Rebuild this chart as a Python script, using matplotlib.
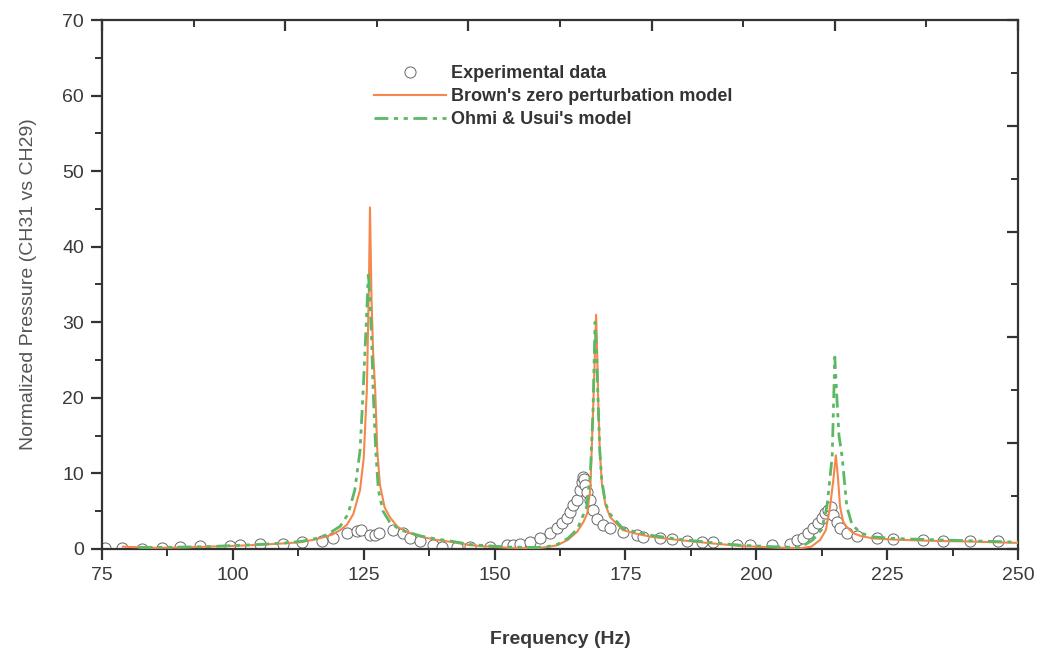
import numpy as np
import matplotlib.pyplot as plt
from matplotlib.ticker import MultipleLocator

plt.rcParams['font.family'] = ['Liberation Sans', 'DejaVu Sans']

exp_f = [75.6, 78.8, 82.6, 86.5, 89.9, 93.7, 99.5, 101.4, 105.2, 109.6, 113.2, 117.0,
         119.1, 121.8, 123.7, 124.5, 126.2, 127.2, 128.0, 130.6, 132.5, 133.8, 135.8,
         138.2, 140.0, 142.8, 145.3, 149.1, 152.4, 153.5, 154.9, 156.8, 158.7, 160.6,
         161.9, 162.9, 163.8, 164.4, 165.0, 165.8, 166.3, 166.7, 166.9, 167.1, 167.3,
         167.6, 168.2, 168.8, 169.6, 170.7, 172.1, 174.5, 177.2, 178.4, 181.6, 183.9,
         186.8, 189.6, 191.7, 196.3, 198.8, 203.0, 206.4, 207.8, 208.9, 209.9, 210.8,
         211.8, 212.6, 213.1, 213.7, 214.2, 214.7, 215.4, 216.0, 217.3, 219.3, 223.1,
         226.2, 231.9, 235.7, 240.8, 246.2]
exp_p = [0.1, 0.1, 0.0, 0.1, 0.2, 0.35, 0.45, 0.5, 0.6, 0.7, 0.9, 1.1,
         1.4, 2.1, 2.4, 2.5, 1.9, 1.9, 2.1, 2.5, 2.1, 1.5, 1.1,
         0.5, 0.3, 0.2, 0.2, 0.3, 0.5, 0.5, 0.7, 0.9, 1.4, 2.1,
         2.8, 3.4, 4.1, 4.9, 5.8, 6.5, 7.8, 8.9, 9.5, 9.3, 8.5,
         7.5, 6.5, 5.2, 4.0, 3.2, 2.8, 2.3, 1.9, 1.6, 1.4, 1.3,
         1.0, 0.9, 0.9, 0.5, 0.5, 0.5, 0.6, 1.2, 1.4, 2.1, 2.8,
         3.4, 4.1, 4.7, 5.2, 5.5, 4.5, 3.6, 2.8, 2.1, 1.7, 1.4,
         1.3, 1.2, 1.1, 1.1, 1.0]

# Brown's zero perturbation model
brown_f = [79.0, 85.0, 90.0, 95.0, 100.0, 105.0, 110.0, 113.0, 116.0, 119.0, 120.5,
           121.8, 123.0, 124.3, 125.0, 125.6, 126.0, 126.2, 126.5, 126.8, 127.2, 127.6,
           128.1, 129.0, 130.0, 131.5, 133.8, 136.0, 139.0, 142.0, 145.3, 149.0, 153.0,
           158.0, 160.0, 162.0, 164.0, 165.8, 167.0, 167.7, 168.3, 168.6, 169.0, 169.4,
           169.6, 169.8, 170.1, 170.5, 171.2, 172.1, 174.5, 177.2, 180.0, 185.0, 190.6,
           196.9, 203.2, 208.4, 210.5, 212.2, 213.3, 214.1, 214.7, 215.2, 215.6, 216.0,
           216.6, 217.3, 218.5, 220.0, 222.3, 226.0, 230.0, 235.0, 240.0, 245.0, 250.0]
brown_p = [0.3, 0.15, 0.2, 0.3, 0.4, 0.55, 0.75, 0.9, 1.3, 1.9, 2.5,
           3.2, 4.6, 7.8, 12.0, 21.0, 35.0, 45.2, 33.0, 26.0, 21.0, 13.0,
           8.5, 5.5, 4.2, 2.9, 2.1, 1.6, 1.2, 0.9, 0.5, 0.3, 0.15,
           0.1, 0.25, 0.5, 1.2, 2.3, 3.6, 4.7, 8.0, 14.0, 22.0, 31.0,
           26.0, 19.7, 13.0, 8.7, 5.8, 4.2, 2.5, 2.0, 1.6, 1.2, 0.8,
           0.4, 0.2, 0.1, 0.3, 1.2, 2.5, 5.6, 9.0, 12.4, 9.5, 5.6,
           3.6, 2.9, 2.1, 1.7, 1.4, 1.25, 1.15, 1.05, 1.0, 0.9, 0.8]

# Ohmi & Usui's model
ohmi_f = [82.0, 85.0, 90.0, 95.0, 100.0, 105.0, 110.0, 113.0, 116.0, 118.0, 120.5,
          122.0, 123.3, 124.3, 124.9, 125.5, 125.9, 126.2, 126.5, 126.8, 127.3, 127.8,
          128.7, 130.0, 132.0, 134.0, 136.0, 139.0, 142.0, 145.3, 149.0, 153.0, 158.0,
          160.0, 162.0, 164.0, 165.8, 167.6, 168.3, 168.8, 169.2, 169.5, 169.8, 170.1,
          170.5, 171.2, 172.1, 174.5, 177.2, 180.0, 185.0, 190.6, 196.9, 203.2, 208.4,
          210.8, 212.5, 213.5, 214.5, 215.0, 215.4, 215.8, 216.4, 217.3, 218.3, 220.0,
          222.3, 226.0, 230.0, 235.0, 240.0, 245.0, 250.0]
ohmi_p = [0.2, 0.2, 0.25, 0.3, 0.45, 0.6, 0.8, 1.0, 1.4, 1.9, 3.0,
          4.6, 7.8, 13.0, 21.0, 30.0, 36.5, 33.0, 28.0, 21.0, 13.0, 7.8,
          5.0, 3.5, 2.5, 2.1, 1.7, 1.3, 1.0, 0.6, 0.4, 0.25, 0.2,
          0.3, 0.6, 1.4, 2.6, 5.6, 10.0, 18.0, 30.0, 26.0, 19.0, 13.0,
          9.0, 6.0, 4.6, 2.7, 2.2, 1.8, 1.3, 0.9, 0.5, 0.3, 0.2,
          1.2, 2.6, 5.6, 12.2, 25.4, 20.0, 15.0, 12.2, 5.6, 3.2, 2.1,
          1.6, 1.4, 1.3, 1.2, 1.1, 1.0, 0.9]

orange = '#f5874c'
green = '#5cb864'
dark = '#333333'

fig = plt.figure(figsize=(10.47, 6.54), dpi=100)
ax = fig.add_axes([0.0974, 0.1606, 0.8749, 0.8088])

ax.plot(exp_f, exp_p, linestyle='none', marker='o', markersize=8, markerfacecolor='white',
        markeredgecolor='#666666', markeredgewidth=0.7, label='Experimental data', zorder=2)
ax.plot(brown_f, brown_p, color=orange, linewidth=1.5, label="Brown's zero perturbation model", zorder=3)
ax.plot(ohmi_f, ohmi_p, color=green, linewidth=2.0, dashes=(5, 2, 1.5, 2, 1.5, 2),
        label="Ohmi & Usui's model", zorder=3)

ax.set_xlim(75, 250)
ax.set_ylim(0, 70)
ax.xaxis.set_major_locator(MultipleLocator(25))
ax.xaxis.set_minor_locator(MultipleLocator(12.5))
ax.yaxis.set_major_locator(MultipleLocator(10))
ax.yaxis.set_minor_locator(MultipleLocator(5))

for s in ax.spines.values():
    s.set_color(dark)
    s.set_linewidth(1.6)

ax.tick_params(axis='both', which='major', direction='out', length=8, width=1.6,
               color=dark, labelsize=14, labelcolor='#3a3a3a', pad=5)
ax.tick_params(axis='both', which='minor', direction='out', length=5, width=1.4, color=dark)

# inward ticks on top and right, with their own spacing
top = ax.secondary_xaxis('top')
top.set_xticks(np.arange(75, 251, 35))
top.set_xticks(np.arange(92.5, 251, 35), minor=True)
top.tick_params(which='major', direction='in', length=8, width=1.6, color=dark, labeltop=False)
top.tick_params(which='minor', direction='in', length=5, width=1.4, color=dark)
top.spines['top'].set_visible(False)
right = ax.secondary_yaxis('right')
right.set_yticks(np.arange(0, 71, 14))
right.set_yticks(np.arange(7, 71, 14), minor=True)
right.tick_params(which='major', direction='in', length=8, width=1.6, color=dark, labelright=False)
right.tick_params(which='minor', direction='in', length=5, width=1.4, color=dark)
right.spines['right'].set_visible(False)

ax.set_xlabel('Frequency (Hz)', fontsize=14, fontweight='bold', color='#3a3a3a', labelpad=34)
ax.set_ylabel('Normalized Pressure (CH31 vs CH29)', fontsize=14, color='#555555', labelpad=18)

leg = ax.legend(loc='upper left', bbox_to_anchor=(0.279, 0.946), frameon=False,
                prop={'size': 13, 'weight': 'bold'}, handlelength=4.0, handletextpad=0.3,
                labelspacing=0.35, labelcolor='#333333')

fig.savefig('out.png', dpi=100)
